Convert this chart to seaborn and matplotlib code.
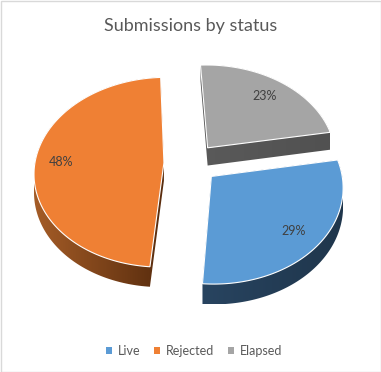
import numpy as np
import matplotlib
matplotlib.use("Agg")
import matplotlib.pyplot as plt
from matplotlib.patches import Polygon, Rectangle, Patch
from matplotlib.colors import LinearSegmentedColormap
import seaborn as sns

# ---- data ----
categories = ["Live", "Rejected", "Elapsed"]
shares = [29, 48, 23]
title = "Submissions by status"

# ---- style ----
top_colors = ["#5B9BD5", "#EF8034", "#A5A5A5"]
side_colors = [("#284460", "#1F364C"), ("#A45C27", "#5A2D0E"), ("#5A5A5A", "#515151")]
label_dist = [0.79, 0.80, 0.77]

sns.set_theme(style="white")
plt.rcParams["font.family"] = ["Lato", "DejaVu Sans"]
palette = sns.color_palette(top_colors)

W, H = 381, 372
fig = plt.figure(figsize=(W / 100, H / 100), dpi=100)
ax = fig.add_axes([0, 0, 1, 1])

# pixel geometry of the 3-D pie (centre, radii, perspective, thickness)
cx, cy, Rx, Ry, persp, depth = 191, 163, 129, 94, 0.10, 18

wedges, texts, autotexts = ax.pie(
    shares, colors=palette, explode=[0.21] * len(shares), startangle=10,
    counterclock=False, autopct="%1.0f%%", pctdistance=0.75,
    textprops=dict(color="#404040", fontsize=9))


def proj(u, v, drop=0.0):
    f = 1.0 / (1.0 + persp * v)
    return np.column_stack([cx + Rx * u * f, cy - Ry * v * f + drop * f])


def hull(pts):
    pts = sorted(map(tuple, pts))
    def cross(o, a, b):
        return (a[0] - o[0]) * (b[1] - o[1]) - (a[1] - o[1]) * (b[0] - o[0])
    lower, upper = [], []
    for p in pts:
        while len(lower) >= 2 and cross(lower[-2], lower[-1], p) <= 0:
            lower.pop()
        lower.append(p)
    for p in reversed(pts):
        while len(upper) >= 2 and cross(upper[-2], upper[-1], p) <= 0:
            upper.pop()
        upper.append(p)
    return np.array(lower[:-1] + upper[:-1])


for i, w in enumerate(wedges):
    c = np.array(w.center)
    t = np.radians(np.linspace(w.theta1, w.theta2, 160))
    u = np.concatenate([[c[0]], c[0] + w.r * np.cos(t)])
    v = np.concatenate([[c[1]], c[1] + w.r * np.sin(t)])
    top = proj(u, v)
    bot = proj(u, v, depth)
    mid = np.radians((w.theta1 + w.theta2) / 2)
    z = 2 - np.sin(mid)

    side = Polygon(hull(np.vstack([top, bot])), closed=True,
                   facecolor="none", edgecolor="none", zorder=z)
    ax.add_patch(side)
    cmap = LinearSegmentedColormap.from_list("s%d" % i, side_colors[i])
    x0, x1 = side.get_xy()[:, 0].min(), side.get_xy()[:, 0].max()
    y0, y1 = side.get_xy()[:, 1].min(), side.get_xy()[:, 1].max()
    im = ax.imshow(np.linspace(0, 1, 64)[None, :], cmap=cmap, aspect="auto",
                   extent=(x0, x1, y1, y0), interpolation="bilinear", zorder=z)
    im.set_clip_path(side)

    face = Polygon(top, closed=True, facecolor=w.get_facecolor(),
                   edgecolor="white", linewidth=0.8, zorder=z + 0.01)
    ax.add_patch(face)
    w.set_visible(False)

    lab = proj(np.array([c[0] + label_dist[i] * np.cos(mid)]),
               np.array([c[1] + label_dist[i] * np.sin(mid)]))[0]
    autotexts[i].set_position(lab)
    autotexts[i].set_zorder(10)

ax.set_aspect("auto")
ax.set_xlim(0, W)
ax.set_ylim(H, 0)
ax.axis("off")

fig.text(0.5, 1 - 26 / H, title, ha="center", va="center",
         fontsize=13, color="#595959")

handles = [Patch(facecolor=palette[i], edgecolor="none") for i in range(len(categories))]
fig.legend(handles, categories, loc="center", bbox_to_anchor=(194 / W, 1 - 351 / H),
           ncol=3, frameon=False, handlelength=0.5, handleheight=0.5,
           handletextpad=0.45, columnspacing=1.1, fontsize=9,
           labelcolor="#595959")

fig.patches.append(Rectangle((0.5 / W, 0.5 / H), 1 - 1 / W, 1 - 1 / H,
                             transform=fig.transFigure, fill=False,
                             edgecolor="#D9D9D9", linewidth=1))

fig.savefig("out.png", dpi=100)
